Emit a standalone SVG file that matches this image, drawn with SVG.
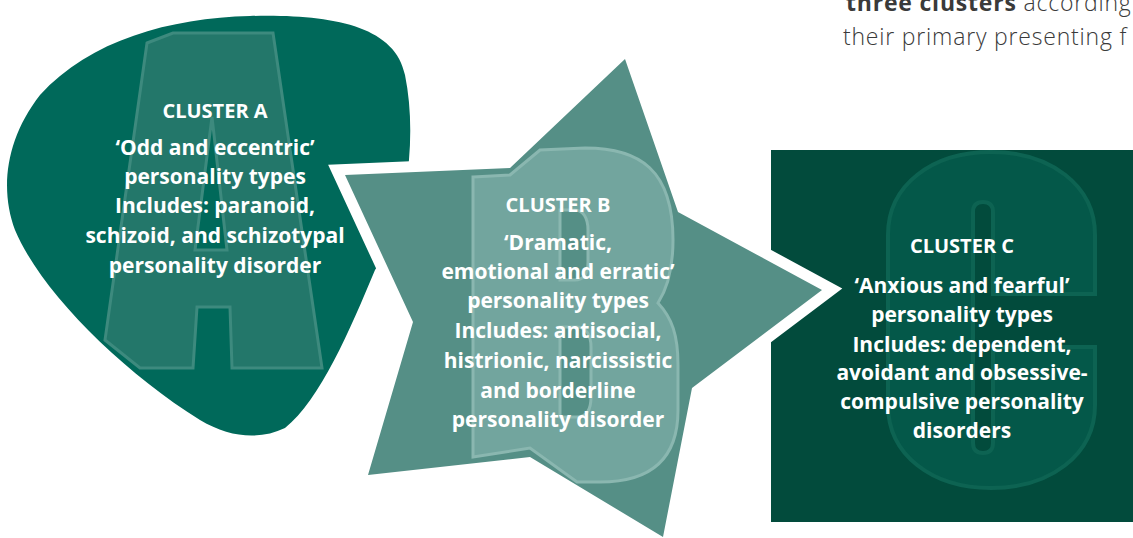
<svg xmlns="http://www.w3.org/2000/svg" width="1133" height="538" viewBox="0 0 1133 538">
<style>
.t{font-family:"Open Sans","Noto Sans",sans-serif;font-weight:700;font-size:21px;fill:#ffffff;text-anchor:middle}
.h{font-size:20px}
.intro{font-family:"Open Sans","Noto Sans",sans-serif;font-size:23px;letter-spacing:0.8px;fill:#3a3a3a;font-weight:300}
</style>
<rect width="1133" height="538" fill="#ffffff"/>
<text class="intro" x="846" y="11"><tspan font-weight="700">three clusters</tspan> according</text>
<text class="intro" x="843" y="45">their primary presenting f</text>
<g id="clusterC">
<rect x="771" y="150" width="362" height="372" fill="#024b3c"/>
<path d="M1095,294 L1095,235 C1095,185 1050,152 991,152 C932,152 888,185 888,235 L888,405 C888,455 932,488 991,488 C1050,488 1095,455 1095,405 L1095,347 L993,347 L993,443 Q993,453 983,453 Q973,453 973,443 L973,212 Q973,202 983,202 Q993,202 993,212 L993,294 Z" fill="#045849" stroke="#0d6352" stroke-width="4"/>
<text class="t h" x="962" y="253">CLUSTER C</text>
<text class="t" x="962" y="293">‘Anxious and fearful’</text>
<text class="t" x="962" y="322">personality types</text>
<text class="t" x="962" y="352">Includes: dependent,</text>
<text class="t" x="962" y="380">avoidant and obsessive-</text>
<text class="t" x="962" y="409">compulsive personality</text>
<text class="t" x="962" y="438">disorders</text>
</g>
<g id="clusterA">
<path d="M250,16 C330,14 395,25 405,75 C412,110 412,150 405,190 C398,230 388,250 375,270 C350,330 320,400 285,428 C260,440 230,438 200,420 C120,370 40,290 15,230 C0,190 5,140 40,95 C90,40 170,18 250,16 Z" fill="#00695a"/>
<path d="M147,43 L173,33 L273,33 L322,368 L232,368 L230,307 L197,307 L193,368 L140,368 L105,340 Z M212,117 L195,250 L227,250 Z" fill="#23776a" fill-rule="evenodd" stroke="#3d8a7e" stroke-width="3"/>
<text class="t h" x="215" y="118">CLUSTER A</text>
<text class="t" x="215" y="155">‘Odd and eccentric’</text>
<text class="t" x="215" y="184">personality types</text>
<text class="t" x="215" y="213">Includes: paranoid,</text>
<text class="t" x="215" y="243">schizoid, and schizotypal</text>
<text class="t" x="215" y="273">personality disorder</text>
</g>
<g id="clusterB">
<path d="M625,59 L678,212 L822,290 L692,388 L663,537 L530,457 L368,475 L413,322 L345,175 L510,168 Z" fill="#558f86" stroke="#ffffff" stroke-width="22" stroke-linejoin="miter" stroke-miterlimit="4" paint-order="stroke"/>
<path d="M473,177 L510,175 L540,150 L585,148 C640,148 673,170 673,240 C673,275 665,292 658,303 C672,318 678,335 678,365 L678,410 C678,460 650,482 600,482 L577,482 L530,448 L473,457 Z M560,210 L575,210 C583,210 588,218 588,230 L588,262 C588,274 583,280 575,280 L560,280 Z M560,327 L577,327 C586,327 591,335 591,347 L591,397 C591,410 586,417 577,417 L560,417 Z" fill="#72a59e" fill-rule="evenodd" stroke="#8ab7b0" stroke-width="3"/>
<text class="t h" x="558" y="212">CLUSTER B</text>
<text class="t" x="558" y="250">‘Dramatic,</text>
<text class="t" x="558" y="279">emotional and erratic’</text>
<text class="t" x="558" y="308">personality types</text>
<text class="t" x="558" y="338">Includes: antisocial,</text>
<text class="t" x="558" y="368">histrionic, narcissistic</text>
<text class="t" x="558" y="398">and borderline</text>
<text class="t" x="558" y="427">personality disorder</text>
</g>
<g id="connectors"></g>
</svg>
